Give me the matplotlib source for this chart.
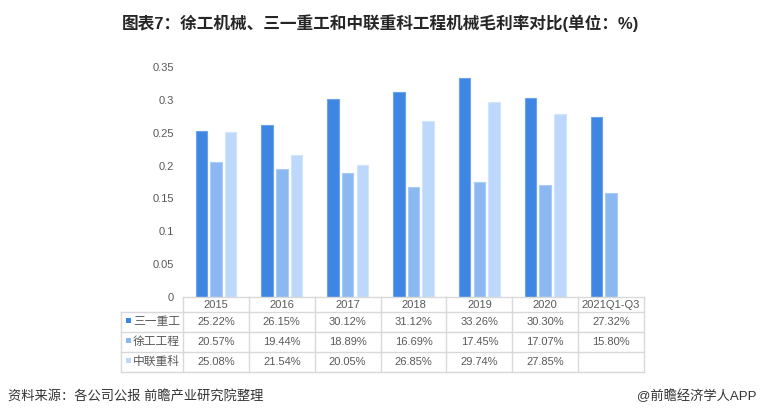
import matplotlib
matplotlib.use('Agg')
import matplotlib.pyplot as plt
import matplotlib.transforms as mtransforms
from matplotlib.patches import Rectangle
import numpy as np

# ---------------- data ----------------
categories = ['2015', '2016', '2017', '2018', '2019', '2020', '2021Q1-Q3']
series_names = ['三一重工', '徐工工程', '中联重科']
sany = [25.22, 26.15, 30.12, 31.12, 33.26, 30.30, 27.32]
xcmg = [20.57, 19.44, 18.89, 16.69, 17.45, 17.07, 15.80]
zoomlion = [25.08, 21.54, 20.05, 26.85, 29.74, 27.85, None]
yticks = [0, 0.05, 0.1, 0.15, 0.2, 0.25, 0.3, 0.35]
ytick_labels = ['0', '0.05', '0.1', '0.15', '0.2', '0.25', '0.3', '0.35']
title = '图表7：徐工机械、三一重工和中联重科工程机械毛利率对比(单位：%)'
source = '资料来源：各公司公报 前瞻产业研究院整理'
credit = '@前瞻经济学人APP'

colors = ['#3f86e3', '#8cb8f2', '#bdd8fb']
edges = ['#6aa3ec', '#a9cbf6', '#d3e5fc']

plt.rcParams['font.family'] = ['Liberation Sans', 'Noto Sans CJK SC', 'DejaVu Sans']
TXT = '#595959'
GRID = '#d9d9d9'

W, H = 760, 416
fig = plt.figure(figsize=(W / 100, H / 100), dpi=100)
fig.patch.set_facecolor('white')

L, R, T, B = 183, 644, 67, 297
ax = fig.add_axes([L / W, (H - B) / H, (R - L) / W, (B - T) / H])

series = [sany, xcmg, zoomlion]
x = np.arange(len(categories))
bw = 0.175
step = 0.222
for i, vals in enumerate(series):
    xs, hs = [], []
    for j, v in enumerate(vals):
        if v is not None:
            xs.append(x[j] + (i - 1) * step)
            hs.append(v / 100)
    ax.bar(xs, hs, width=bw, color=colors[i], edgecolor=edges[i], linewidth=0.8)

ax.set_xlim(-0.5, len(categories) - 0.5)
ax.set_ylim(0, 0.35)
ax.set_yticks(yticks)
ax.set_yticklabels(ytick_labels, fontsize=8, color=TXT)
ax.tick_params(axis='y', length=0, pad=6.5)
ax.set_xticks([])
for s in ax.spines.values():
    s.set_visible(False)

# ---------------- table ----------------
colw = (R - L) / len(categories)
def px2x(px):
    return -0.5 - (L - px) / colw

ytr = mtransforms.Affine2D().scale(1, -1).translate(0, H)
tr = mtransforms.blended_transform_factory(ax.transData, ytr)

rows_y = [297, 312, 332, 352, 372]
lab_left = px2x(121)
xr = len(categories) - 0.5

def hline(y, x0, x1):
    ax.plot([x0, x1], [y, y], color=GRID, lw=1, transform=tr, clip_on=False)

def vline(xv, y0, y1):
    ax.plot([xv, xv], [y0, y1], color=GRID, lw=1, transform=tr, clip_on=False)

hline(297, -0.5, xr)
for y in rows_y[1:]:
    hline(y, lab_left, xr)
for k in range(len(categories) + 1):
    vline(-0.5 + k, 297, 372)
vline(lab_left, 312, 372)

for j, c in enumerate(categories):
    ax.text(j, 305, c, transform=tr, ha='center', va='center', fontsize=8, color=TXT, clip_on=False)

for i, (name, vals) in enumerate(zip(series_names, series)):
    yc = (rows_y[i + 1] + rows_y[i + 2]) / 2
    ax.add_patch(Rectangle((px2x(126), yc - 4), 5 / colw, 5, transform=tr,
                           facecolor=colors[i], edgecolor='none', clip_on=False))
    ax.text(px2x(133), yc, name, transform=tr, ha='left', va='center', fontsize=8.5,
            color=TXT, clip_on=False)
    for j, v in enumerate(vals):
        if v is not None:
            ax.text(j, yc, f'{v:.2f}%', transform=tr, ha='center', va='center',
                    fontsize=8, color=TXT, clip_on=False)

# ---------------- titles ----------------
fig.text(0.5, 1 - 23 / H, title, ha='center', va='center', fontsize=12,
         fontweight='bold', color='#262626')
fig.text(8 / W, 1 - 396 / H, source, ha='left', va='center', fontsize=9.5, color='#333333')
fig.text(757 / W, 1 - 396 / H, credit, ha='right', va='center', fontsize=9.5, color='#333333')

fig.savefig('out.png', dpi=100)
